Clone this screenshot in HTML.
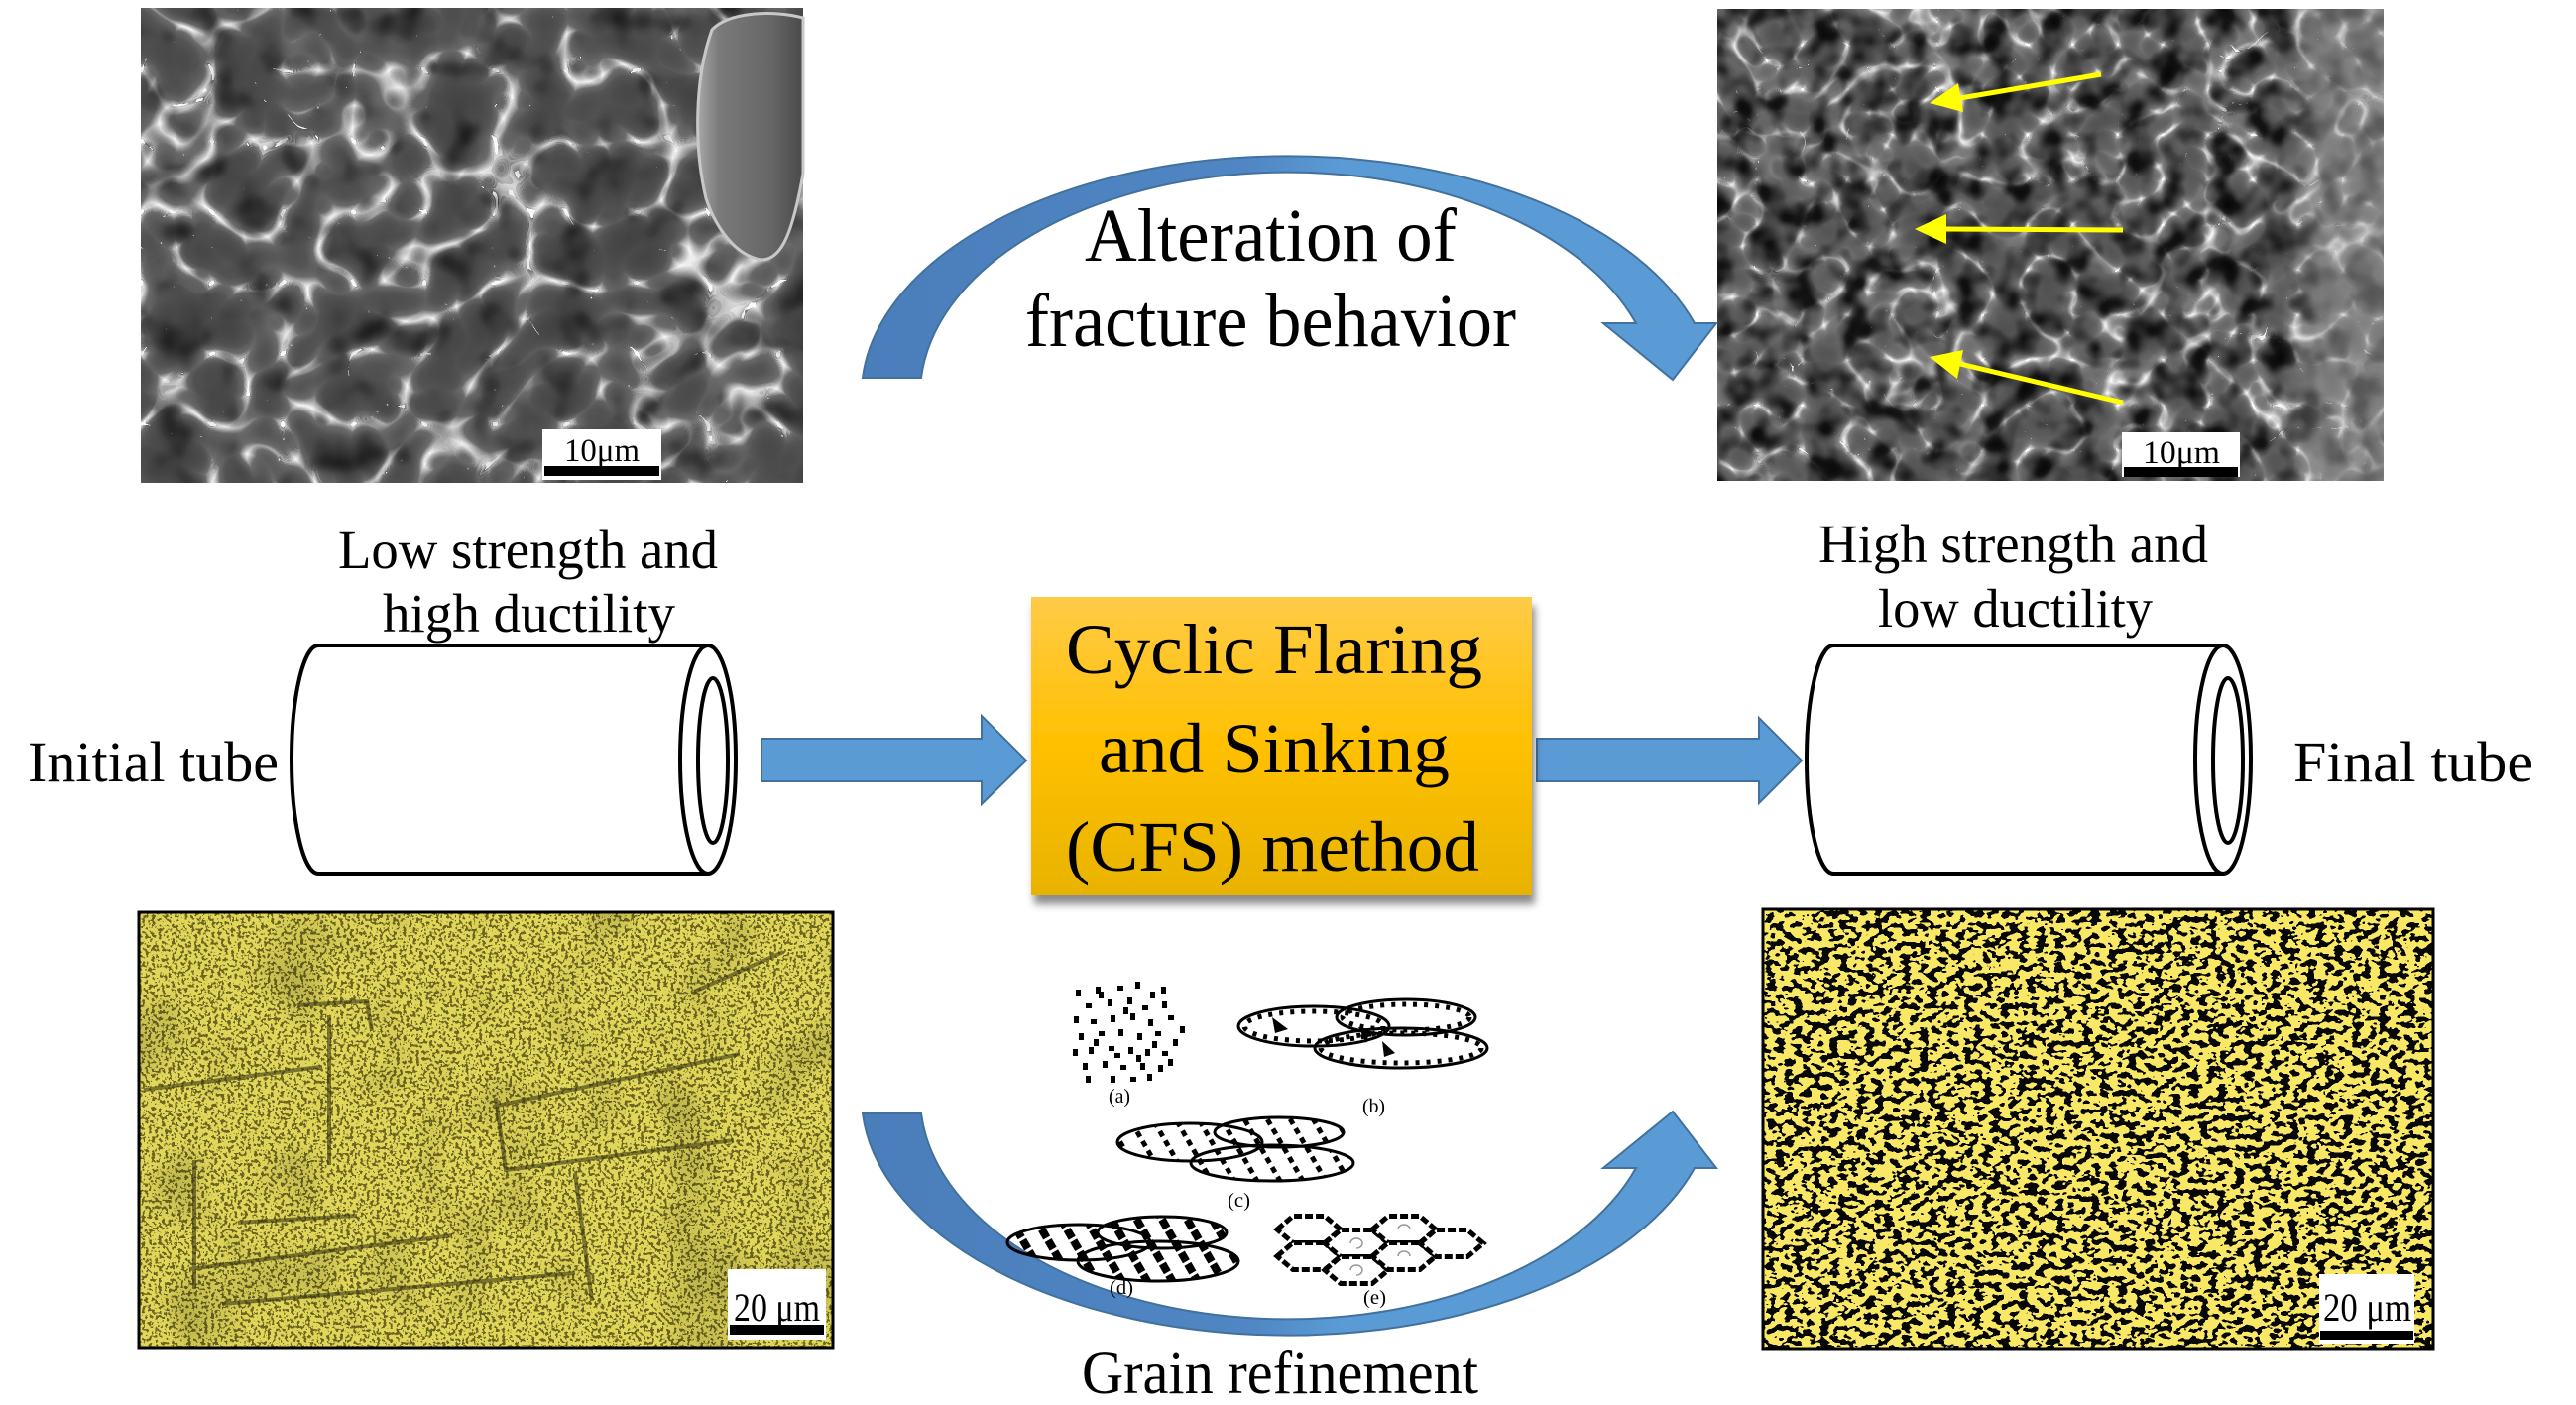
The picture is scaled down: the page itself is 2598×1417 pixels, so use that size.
<!DOCTYPE html>
<html><head><meta charset="utf-8">
<style>
html,body{margin:0;padding:0;background:#fff;width:2598px;height:1417px;overflow:hidden}
svg{display:block}
text{font-family:"Liberation Serif","Times New Roman",serif;fill:#000}
</style></head><body>
<svg xmlns="http://www.w3.org/2000/svg" xmlns:xlink="http://www.w3.org/1999/xlink" width="2598" height="1417" viewBox="0 0 2598 1417">
<defs>
  <!-- SEM left texture -->
  <filter id="fSemL" x="0" y="0" width="1" height="1" color-interpolation-filters="sRGB">
    <feTurbulence type="turbulence" baseFrequency="0.014" numOctaves="2" seed="11"/>
    <feColorMatrix type="matrix" values="1 0 0 0 0  1 0 0 0 0  1 0 0 0 0  0 0 0 0 1"/>
    <feComponentTransfer result="ridge">
      <feFuncR type="table" tableValues="0.98 0.42 0.33 0.3 0.28 0.26 0.25 0.25"/>
      <feFuncG type="table" tableValues="0.98 0.42 0.33 0.3 0.28 0.26 0.25 0.25"/>
      <feFuncB type="table" tableValues="0.98 0.42 0.33 0.3 0.28 0.26 0.25 0.25"/>
    </feComponentTransfer>
    <feTurbulence type="fractalNoise" baseFrequency="0.025" numOctaves="2" seed="5"/>
    <feColorMatrix type="matrix" values="1 0 0 0 0  1 0 0 0 0  1 0 0 0 0  0 0 0 0 1"/>
    <feComponentTransfer result="holes">
      <feFuncR type="table" tableValues="1.15 1.15 1.1 1.02 0.92 0.65 0.35 0.2"/>
      <feFuncG type="table" tableValues="1.15 1.15 1.1 1.02 0.92 0.65 0.35 0.2"/>
      <feFuncB type="table" tableValues="1.15 1.15 1.1 1.02 0.92 0.65 0.35 0.2"/>
    </feComponentTransfer>
    <feComposite in="ridge" in2="holes" operator="arithmetic" k1="1.0" k2="0" k3="0" k4="0"/>
  </filter>
  <!-- SEM right texture -->
  <filter id="fSemR" x="0" y="0" width="1" height="1" color-interpolation-filters="sRGB">
    <feTurbulence type="turbulence" baseFrequency="0.022" numOctaves="2" seed="21"/>
    <feColorMatrix type="matrix" values="1 0 0 0 0  1 0 0 0 0  1 0 0 0 0  0 0 0 0 1"/>
    <feComponentTransfer result="ridge">
      <feFuncR type="table" tableValues="1 0.5 0.4 0.36 0.33 0.31 0.3 0.3"/>
      <feFuncG type="table" tableValues="1 0.5 0.4 0.36 0.33 0.31 0.3 0.3"/>
      <feFuncB type="table" tableValues="1 0.5 0.4 0.36 0.33 0.31 0.3 0.3"/>
    </feComponentTransfer>
    <feTurbulence type="fractalNoise" baseFrequency="0.035" numOctaves="2" seed="8"/>
    <feColorMatrix type="matrix" values="1 0 0 0 0  1 0 0 0 0  1 0 0 0 0  0 0 0 0 1"/>
    <feComponentTransfer result="holes">
      <feFuncR type="table" tableValues="1.1 1.1 1.05 0.95 0.6 0.2 0.08 0.05"/>
      <feFuncG type="table" tableValues="1.1 1.1 1.05 0.95 0.6 0.2 0.08 0.05"/>
      <feFuncB type="table" tableValues="1.1 1.1 1.05 0.95 0.6 0.2 0.08 0.05"/>
    </feComponentTransfer>
    <feComposite in="ridge" in2="holes" operator="arithmetic" k1="1.0" k2="0" k3="0" k4="0"/>
  </filter>
  <!-- Yellow left micrograph -->
  <filter id="fYL" x="0" y="0" width="1" height="1" color-interpolation-filters="sRGB">
    <feTurbulence type="fractalNoise" baseFrequency="0.3" numOctaves="2" seed="3"/>
    <feColorMatrix type="matrix" values="1 0 0 0 0.06  1 0 0 0 0.06  1 0 0 0 0.06  0 0 0 0 1"/>
    <feComponentTransfer result="speck">
      <feFuncR type="discrete" tableValues="0.42 0.88"/>
      <feFuncG type="discrete" tableValues="0.4 0.84"/>
      <feFuncB type="discrete" tableValues="0.13 0.35"/>
    </feComponentTransfer>
    <feTurbulence type="fractalNoise" baseFrequency="0.012" numOctaves="2" seed="9"/>
    <feColorMatrix type="matrix" values="1 0 0 0 0  1 0 0 0 0  1 0 0 0 0  0 0 0 0 1"/>
    <feComponentTransfer result="shade">
      <feFuncR type="linear" slope="0.5" intercept="0.75"/>
      <feFuncG type="linear" slope="0.5" intercept="0.75"/>
      <feFuncB type="linear" slope="0.5" intercept="0.75"/>
    </feComponentTransfer>
    <feComposite in="speck" in2="shade" operator="arithmetic" k1="1" k2="0" k3="0" k4="0"/>
  </filter>
  <!-- Yellow right micrograph -->
  <filter id="fYR" x="0" y="0" width="1" height="1" color-interpolation-filters="sRGB">
    <feTurbulence type="fractalNoise" baseFrequency="0.11 0.16" numOctaves="2" seed="14"/>
    <feColorMatrix type="matrix" values="1 0 0 0 0.03  1 0 0 0 0.03  1 0 0 0 0.03  0 0 0 0 1"/>
    <feComponentTransfer>
      <feFuncR type="discrete" tableValues="0.03 0.98"/>
      <feFuncG type="discrete" tableValues="0.03 0.91"/>
      <feFuncB type="discrete" tableValues="0.02 0.4"/>
    </feComponentTransfer>
  </filter>
  <filter id="shadow" x="-10%" y="-10%" width="125%" height="130%">
    <feDropShadow dx="3" dy="9" stdDeviation="4" flood-color="#000" flood-opacity="0.45"/>
  </filter>
  <linearGradient id="gOrange" x1="0" y1="0" x2="0" y2="1">
    <stop offset="0" stop-color="#FFCB47"/>
    <stop offset="0.5" stop-color="#FFC000"/>
    <stop offset="1" stop-color="#E8B300"/>
  </linearGradient>
  <linearGradient id="gArc" gradientUnits="userSpaceOnUse" x1="870" y1="0" x2="1731" y2="0">
    <stop offset="0" stop-color="#4A7EBB"/>
    <stop offset="0.45" stop-color="#4F86C3"/>
    <stop offset="0.56" stop-color="#5B9BD5"/>
    <stop offset="1" stop-color="#5B9BD5"/>
  </linearGradient>
  <linearGradient id="gLight" x1="0" y1="0" x2="1" y2="0">
    <stop offset="0" stop-color="#bbb" stop-opacity="0"/>
    <stop offset="0.4" stop-color="#aaa" stop-opacity="0.45"/>
    <stop offset="1" stop-color="#999" stop-opacity="0.55"/>
  </linearGradient>
  <linearGradient id="gBlob" x1="0" y1="0" x2="1" y2="0">
    <stop offset="0" stop-color="#a8a8a8"/>
    <stop offset="0.2" stop-color="#7a7a7a"/>
    <stop offset="0.7" stop-color="#666"/>
    <stop offset="1" stop-color="#4a4a4a"/>
  </linearGradient>
  <pattern id="hatchC" patternUnits="userSpaceOnUse" width="20" height="11" patternTransform="rotate(-30)">
    <rect x="0" y="0" width="5" height="6" fill="#000"/>
  </pattern>
  <pattern id="hatchD" patternUnits="userSpaceOnUse" width="22" height="13" patternTransform="rotate(-30)">
    <rect x="0" y="0" width="8" height="10" fill="#000"/>
  </pattern>
  <path id="carrow" d="M 870 381 A 430 241 0 0 1 1709 326 L 1731 326 L 1687 383 L 1617 326 L 1650 326 A 371 225 0 0 0 929 381 Z" fill="url(#gArc)" stroke="#41719C" stroke-width="2"/>
</defs>

<!-- ===== Top-left SEM ===== -->
<rect x="142" y="8" width="668" height="479" fill="#666" filter="url(#fSemL)"/>
<path d="M 718 30 C 735 12, 780 10, 810 18 L 810 175 C 800 230, 790 262, 768 262 C 742 258, 722 230, 712 200 C 700 150, 700 80, 718 30 Z" fill="url(#gBlob)" stroke="#c8c8c8" stroke-width="3"/>
<rect x="547" y="433" width="120" height="51" fill="#fff"/>
<text x="607" y="465" font-size="33" text-anchor="middle" textLength="76" lengthAdjust="spacingAndGlyphs">10μm</text>
<rect x="549" y="470" width="116" height="10" fill="#000"/>

<!-- ===== Top-right SEM ===== -->
<rect x="1732" y="9" width="672" height="476" fill="#555" filter="url(#fSemR)"/>
<rect x="2300" y="9" width="104" height="476" fill="url(#gLight)"/>
<rect x="2140" y="436" width="119" height="45" fill="#fff"/>
<text x="2200" y="467" font-size="33" text-anchor="middle" textLength="78" lengthAdjust="spacingAndGlyphs">10μm</text>
<rect x="2142" y="471" width="115" height="10" fill="#000"/>
<!-- yellow arrows -->
<g stroke="#FFFF00" stroke-width="5" fill="#FFFF00">
  <line x1="2119" y1="75" x2="1977" y2="99"/>
  <polygon points="1946,104 1975,84 1980,113" stroke="none"/>
  <line x1="2141" y1="232" x2="1963" y2="231"/>
  <polygon points="1931,231 1963,216 1963,246" stroke="none"/>
  <line x1="2141" y1="406" x2="1977" y2="367"/>
  <polygon points="1946,360 1980,353 1974,382" stroke="none"/>
</g>

<!-- ===== Curved arrows ===== -->
<use xlink:href="#carrow" href="#carrow"/>
<use xlink:href="#carrow" href="#carrow" transform="matrix(1 0 0 -1 0 1504)"/>

<text x="1094" y="263" font-size="76" textLength="375" lengthAdjust="spacingAndGlyphs">Alteration of</text>
<text x="1034" y="349" font-size="76" textLength="495" lengthAdjust="spacingAndGlyphs">fracture behavior</text>

<!-- ===== Labels ===== -->
<text x="341" y="573" font-size="55" textLength="383" lengthAdjust="spacingAndGlyphs">Low strength and</text>
<text x="386" y="637" font-size="55" textLength="295" lengthAdjust="spacingAndGlyphs">high ductility</text>
<text x="1834" y="567" font-size="55" textLength="393" lengthAdjust="spacingAndGlyphs">High strength and</text>
<text x="1894" y="632" font-size="55" textLength="277" lengthAdjust="spacingAndGlyphs">low ductility</text>
<text x="28" y="788" font-size="58" textLength="253" lengthAdjust="spacingAndGlyphs">Initial tube</text>
<text x="2313" y="788" font-size="58" textLength="242" lengthAdjust="spacingAndGlyphs">Final tube</text>

<!-- ===== Tubes ===== -->
<g stroke="#000" stroke-width="4" fill="#fff">
  <path d="M 714 651 L 321 651 A 27 115 0 0 0 321 881 L 714 881"/>
  <ellipse cx="714" cy="766" rx="28" ry="115"/>
  <ellipse cx="719" cy="767" rx="15" ry="83"/>
</g>
<g stroke="#000" stroke-width="4" fill="#fff" transform="translate(1528,0)">
  <path d="M 714 651 L 321 651 A 27 115 0 0 0 321 881 L 714 881"/>
  <ellipse cx="714" cy="766" rx="28" ry="115"/>
  <ellipse cx="719" cy="767" rx="15" ry="83"/>
</g>

<!-- ===== Straight arrows ===== -->
<path d="M 768 745 L 990 745 L 990 722 L 1035 767 L 990 811 L 990 788 L 768 788 Z" fill="#5B9BD5" stroke="#41719C" stroke-width="2"/>
<path d="M 1550 745 L 1774 745 L 1774 724 L 1817 767 L 1774 810 L 1774 788 L 1550 788 Z" fill="#5B9BD5" stroke="#41719C" stroke-width="2"/>

<!-- ===== Orange box ===== -->
<rect x="1040" y="602" width="505" height="301" fill="url(#gOrange)" filter="url(#shadow)"/>
<text x="1075" y="679" font-size="72" textLength="420" lengthAdjust="spacingAndGlyphs">Cyclic Flaring</text>
<text x="1108" y="779" font-size="72" textLength="354" lengthAdjust="spacingAndGlyphs">and Sinking</text>
<text x="1075" y="878" font-size="72" textLength="417" lengthAdjust="spacingAndGlyphs">(CFS) method</text>

<!-- ===== Bottom-left micrograph ===== -->
<rect x="140" y="920" width="700" height="440" fill="#cc4" filter="url(#fYL)"/>
<g stroke="#3a3510" stroke-width="4" fill="none" opacity="0.6">
  <polyline points="145,1099 323,1076"/>
  <polyline points="191,1280 456,1246"/>
  <polyline points="497,1116 746,1063"/>
  <polyline points="224,1315 580,1284"/>
  <polyline points="240,1233 360,1226"/>
  <polyline points="332,1024 332,1175"/>
  <polyline points="580,1183 597,1312"/>
  <polyline points="196,1170 196,1300"/>
  <polyline points="500,1107 510,1180 740,1150"/>
  <polyline points="300,1014 370,1010 375,1040"/>
  <polyline points="700,1000 790,960"/>
</g>
<rect x="140" y="920" width="700" height="440" fill="none" stroke="#000" stroke-width="3"/>
<rect x="734" y="1280" width="99" height="71" fill="#fff"/>
<text x="740" y="1332" font-size="40" textLength="87" lengthAdjust="spacingAndGlyphs">20 μm</text>
<rect x="736" y="1336" width="95" height="10" fill="#000"/>

<!-- ===== Bottom-right micrograph ===== -->
<rect x="1778" y="917" width="676" height="444" fill="#ee5" filter="url(#fYR)"/>
<rect x="1778" y="917" width="676" height="444" fill="none" stroke="#000" stroke-width="3"/>
<rect x="2339" y="1285" width="96" height="70" fill="#fff"/>
<text x="2343" y="1332" font-size="40" textLength="89" lengthAdjust="spacingAndGlyphs">20 μm</text>
<rect x="2340" y="1342" width="94" height="9" fill="#000"/>

<!-- ===== Grain refinement diagrams ===== -->
<!-- (a) -->
<path fill="#000" d="M1085 998h5v7h-5zM1105 995h5v7h-5zM1127 994h6v5h-6zM1145 990h5v7h-5zM1160 1000h5v7h-5zM1095 1012h6v5h-6zM1117 1008h5v7h-5zM1137 1006h5v7h-5zM1152 1014h6v5h-6zM1172 1010h5v7h-5zM1083 1025h5v7h-5zM1100 1028h6v5h-6zM1120 1024h5v7h-5zM1140 1022h5v7h-5zM1158 1028h5v7h-5zM1178 1024h6v5h-6zM1190 1035h5v7h-5zM1088 1042h5v7h-5zM1108 1040h6v5h-6zM1128 1038h5v7h-5zM1147 1042h5v7h-5zM1165 1040h6v5h-6zM1183 1048h5v7h-5zM1082 1058h5v7h-5zM1098 1056h5v7h-5zM1118 1055h6v5h-6zM1138 1056h5v7h-5zM1155 1058h5v7h-5zM1172 1060h6v5h-6zM1092 1072h5v7h-5zM1112 1070h5v7h-5zM1130 1074h6v5h-6zM1150 1072h5v7h-5zM1168 1074h5v7h-5zM1178 1068h5v7h-5zM1095 1085h5v7h-5zM1120 1085h5v7h-5zM1140 1086h6v5h-6zM1157 1083h5v7h-5zM1108 1000h5v7h-5zM1133 1016h5v7h-5zM1124 1062h6v5h-6zM1146 1064h5v7h-5zM1103 1048h5v7h-5zM1162 1050h5v7h-5zM1171 995h5v7h-5z"/>
<text x="1118" y="1112" font-size="20" textLength="22" lengthAdjust="spacingAndGlyphs">(a)</text>
<!-- (b) -->
<g fill="none" stroke="#000">
  <ellipse cx="1418" cy="1026" rx="70" ry="18" stroke-width="3"/>
  <ellipse cx="1413" cy="1057" rx="87" ry="20" stroke-width="3"/>
  <ellipse cx="1325" cy="1035" rx="76" ry="20" stroke-width="3"/>
  <ellipse cx="1418" cy="1026" rx="64" ry="13" stroke-width="5" stroke-dasharray="4 7"/>
  <ellipse cx="1413" cy="1057" rx="81" ry="15" stroke-width="5" stroke-dasharray="4 7"/>
  <ellipse cx="1325" cy="1035" rx="70" ry="15" stroke-width="5" stroke-dasharray="4 7"/>
</g>
<polygon points="1283,1026 1299,1038 1286,1042" fill="#000"/>
<polygon points="1378,1052 1370,1036 1382,1038" fill="#000"/>
<polygon points="1394,1050 1407,1062 1396,1066" fill="#000"/>
<text x="1374" y="1122" font-size="20" textLength="23" lengthAdjust="spacingAndGlyphs">(b)</text>
<!-- (c) -->
<g stroke="#000" stroke-width="3" fill="url(#hatchC)">
  <ellipse cx="1290" cy="1142" rx="65" ry="15"/>
  <ellipse cx="1283" cy="1173" rx="82" ry="18"/>
  <ellipse cx="1200" cy="1152" rx="73" ry="19"/>
</g>
<text x="1238" y="1217" font-size="20" textLength="23" lengthAdjust="spacingAndGlyphs">(c)</text>
<!-- (d) -->
<g stroke="#000" stroke-width="3" fill="url(#hatchD)">
  <ellipse cx="1172" cy="1243" rx="65" ry="16"/>
  <ellipse cx="1168" cy="1272" rx="81" ry="20"/>
  <ellipse cx="1088" cy="1253" rx="72" ry="18"/>
</g>
<text x="1119" y="1305" font-size="20" textLength="24" lengthAdjust="spacingAndGlyphs">(d)</text>
<!-- (e) -->
<g fill="#fff" stroke="#000" stroke-width="5" stroke-dasharray="8 3">
  <polygon points="1288,1240 1304,1226.5 1336,1226.5 1352,1240 1336,1253.5 1304,1253.5"/>
  <polygon points="1288,1267 1304,1253.5 1336,1253.5 1352,1267 1336,1280.5 1304,1280.5"/>
  <polygon points="1336,1254 1352,1240.5 1384,1240.5 1400,1254 1384,1267.5 1352,1267.5"/>
  <polygon points="1336,1281 1352,1267.5 1384,1267.5 1400,1281 1384,1294.5 1352,1294.5"/>
  <polygon points="1384,1240 1400,1226.5 1432,1226.5 1448,1240 1432,1253.5 1400,1253.5"/>
  <polygon points="1384,1267 1400,1253.5 1432,1253.5 1448,1267 1432,1280.5 1400,1280.5"/>
  <polygon points="1432,1254 1448,1240.5 1480,1240.5 1496,1254 1480,1267.5 1448,1267.5"/>
</g>
<g fill="none" stroke="#999" stroke-width="1.5">
  <path d="M1362 1254 a6 5 0 1 1 6 5"/>
  <path d="M1410 1240 a6 5 0 1 1 12 0"/>
  <path d="M1410 1267 a6 5 0 1 1 12 0"/>
  <path d="M1362 1281 a6 5 0 1 1 6 5"/>
</g>
<text x="1375" y="1315" font-size="20" textLength="23" lengthAdjust="spacingAndGlyphs">(e)</text>

<text x="1091" y="1405" font-size="61" textLength="400" lengthAdjust="spacingAndGlyphs">Grain refinement</text>
</svg>
</body></html>
